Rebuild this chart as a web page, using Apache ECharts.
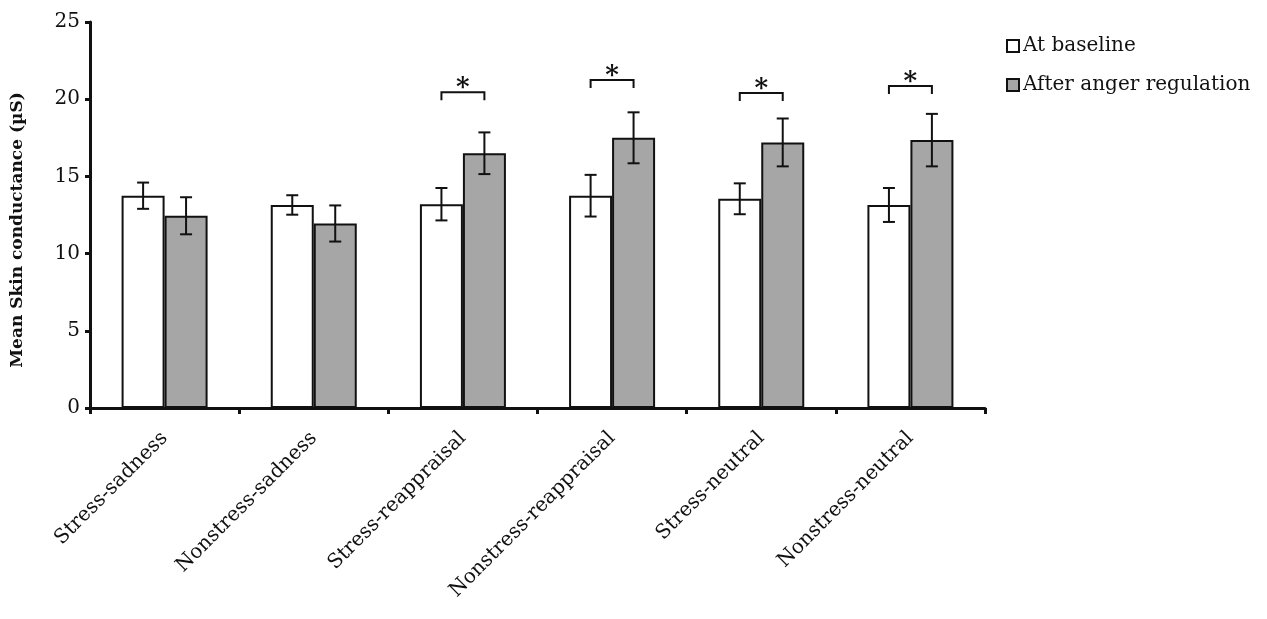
<!DOCTYPE html>
<html>
<head>
<meta charset="utf-8">
<script src="https://cdn.jsdelivr.net/npm/echarts@6/dist/echarts.min.js"></script>
<style>html,body{margin:0;padding:0;background:#fff;}#c{width:1267px;height:619px;}</style>
</head>
<body>
<div id="c"></div>
<script>
var categories = ['Stress-sadness', 'Nonstress-sadness', 'Stress-reappraisal', 'Nonstress-reappraisal', 'Stress-neutral', 'Nonstress-neutral'];
var baseline = [13.75, 13.15, 13.2, 13.75, 13.55, 13.15];
var baselineErr = [0.85, 0.63, 1.05, 1.35, 1.0, 1.1];
var after = [12.45, 11.95, 16.5, 17.5, 17.2, 17.35];
var afterErr = [1.2, 1.17, 1.35, 1.65, 1.55, 1.7];
var sigCategories = [2, 3, 4, 5];
var sigHeights = [20.45, 21.25, 20.4, 20.85];
var yTicks = [0, 5, 10, 15, 20, 25];

var serif = '"DejaVu Serif", "Liberation Serif", serif';
var chart = echarts.init(document.getElementById('c'));

var errData = [];
for (var i = 0; i < categories.length; i++) {
  errData.push([i, baseline[i] - baselineErr[i], baseline[i] + baselineErr[i], -1]);
  errData.push([i, after[i] - afterErr[i], after[i] + afterErr[i], 1]);
}
var sigData = sigCategories.map(function (c, k) { return [c, sigHeights[k]]; });

function barOffset(api) {
  return api.size([1, 0])[0] * 0.144;
}

chart.setOption({
  animation: false,
  grid: { left: 90, right: 282, top: 22, bottom: 211, containLabel: false },
  legend: {
    orient: 'vertical',
    left: 1001,
    top: 31,
    itemWidth: 12,
    itemHeight: 12,
    itemGap: 19,
    icon: 'rect',
    textStyle: { fontFamily: serif, fontSize: 20, color: '#111', padding: [0, 0, 0, -1] },
    data: ['At baseline', 'After anger regulation']
  },
  xAxis: {
    type: 'category',
    data: categories,
    axisLine: { lineStyle: { color: '#111', width: 3 } },
    axisTick: { show: true, length: 6, lineStyle: { color: '#111', width: 3 } },
    axisLabel: {
      rotate: 45,
      interval: 0,
      fontFamily: serif,
      fontSize: 20,
      color: '#111',
      margin: 27
    }
  },
  yAxis: {
    type: 'value',
    min: 0,
    max: 25,
    interval: 5,
    name: 'Mean Skin conductance (µS)',
    nameLocation: 'middle',
    nameGap: 64,
    nameTextStyle: { fontFamily: serif, fontWeight: 'bold', fontSize: 17, color: '#111', padding: [0, 30, 0, 0] },
    axisLine: { show: true, lineStyle: { color: '#111', width: 3 } },
    axisTick: { show: true, length: 5, lineStyle: { color: '#111', width: 3 } },
    splitLine: { show: false },
    axisLabel: {
      fontFamily: serif,
      fontSize: 20,
      color: '#111',
      margin: 10,
      formatter: function (v) { return yTicks.indexOf(v) >= 0 ? String(v) : ''; }
    }
  },
  series: [
    {
      name: 'At baseline',
      type: 'bar',
      data: baseline,
      barWidth: 43,
      barGap: '0%',
      itemStyle: { color: '#ffffff', borderColor: '#111', borderWidth: 2 }
    },
    {
      name: 'After anger regulation',
      type: 'bar',
      data: after,
      barWidth: 43,
      barGap: '0%',
      itemStyle: { color: '#a6a6a6', borderColor: '#111', borderWidth: 2 }
    },
    {
      type: 'custom',
      z: 10,
      data: errData,
      renderItem: function (params, api) {
        var off = barOffset(api) * api.value(3);
        var lo = api.coord([api.value(0), api.value(1)]);
        var hi = api.coord([api.value(0), api.value(2)]);
        var x = lo[0] + off;
        var cap = 6;
        var st = { stroke: '#111', lineWidth: 2 };
        return {
          type: 'group',
          children: [
            { type: 'line', shape: { x1: x, y1: lo[1], x2: x, y2: hi[1] }, style: st },
            { type: 'line', shape: { x1: x - cap, y1: lo[1], x2: x + cap, y2: lo[1] }, style: st },
            { type: 'line', shape: { x1: x - cap, y1: hi[1], x2: x + cap, y2: hi[1] }, style: st }
          ]
        };
      }
    },
    {
      type: 'custom',
      z: 10,
      data: sigData,
      renderItem: function (params, api) {
        var off = barOffset(api);
        var p = api.coord([api.value(0), api.value(1)]);
        var x1 = p[0] - off, x2 = p[0] + off, y = p[1];
        var drop = 8;
        var st = { stroke: '#111', lineWidth: 2, fill: null };
        return {
          type: 'group',
          children: [
            { type: 'polyline', shape: { points: [[x1, y + drop], [x1, y], [x2, y], [x2, y + drop]] }, style: st },
            { type: 'text', style: { text: '*', x: p[0], y: y + 9, align: 'center', verticalAlign: 'bottom', fontFamily: serif, fontWeight: 'bold', fontSize: 26, fill: '#111' } }
          ]
        };
      }
    }
  ]
});
</script>
</body>
</html>
